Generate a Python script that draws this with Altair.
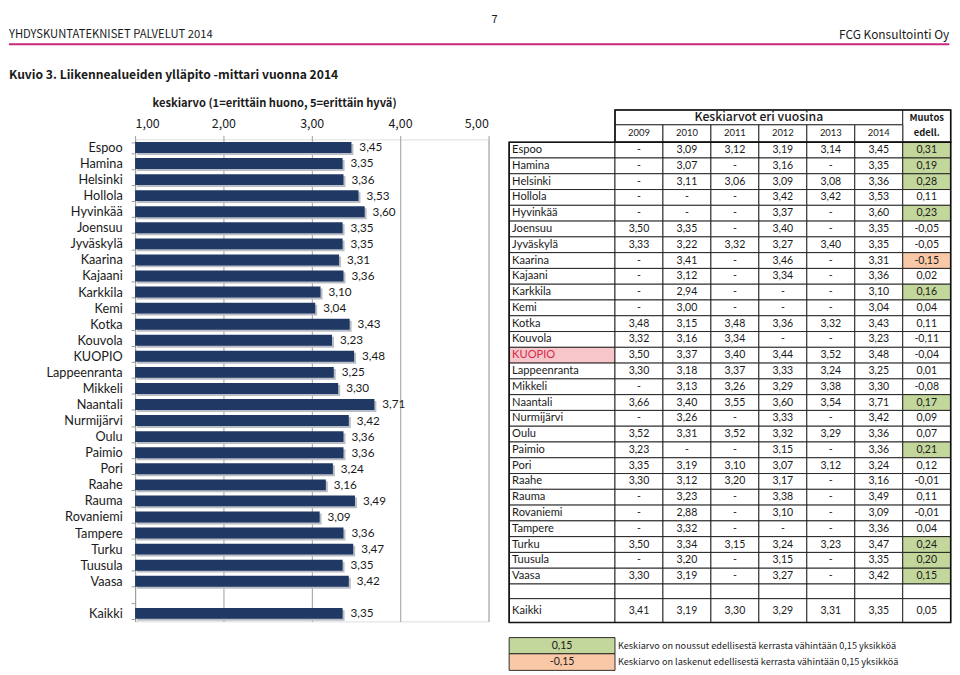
import altair as alt
import numpy as np
import pandas as pd

FONT = "Noto Sans CJK SC"
DENSE = "Lato"
TXT = "#1a1a1a"
GRID = "#9d9d9d"
NAVY = "#1F3864"
SHADOW = "#b9bdc5"
GREEN = "#C3D69B"
SALMON = "#F9C9A7"
PINK = "#F7C6CB"
RED = "#D42A48"
MAGENTA = "#C8287F"

# ---------------- data ----------------
cities = ["Espoo", "Hamina", "Helsinki", "Hollola", "Hyvinkää", "Joensuu", "Jyväskylä",
          "Kaarina", "Kajaani", "Karkkila", "Kemi", "Kotka", "Kouvola", "KUOPIO",
          "Lappeenranta", "Mikkeli", "Naantali", "Nurmijärvi", "Oulu", "Paimio", "Pori",
          "Raahe", "Rauma", "Rovaniemi", "Tampere", "Turku", "Tuusula", "Vaasa"]
N = None
v2009 = [N, N, N, N, N, 3.50, 3.33, N, N, N, N, 3.48, 3.32, 3.50, 3.30, N, 3.66, N,
         3.52, 3.23, 3.35, 3.30, N, N, N, 3.50, N, 3.30]
v2010 = [3.09, 3.07, 3.11, N, N, 3.35, 3.22, 3.41, 3.12, 2.94, 3.00, 3.15, 3.16, 3.37,
         3.18, 3.13, 3.40, 3.26, 3.31, N, 3.19, 3.12, 3.23, 2.88, 3.32, 3.34, 3.20, 3.19]
v2011 = [3.12, N, 3.06, N, N, N, 3.32, N, N, N, N, 3.48, 3.34, 3.40, 3.37, 3.26, 3.55, N,
         3.52, N, 3.10, 3.20, N, N, N, 3.15, N, N]
v2012 = [3.19, 3.16, 3.09, 3.42, 3.37, 3.40, 3.27, 3.46, 3.34, N, N, 3.36, N, 3.44, 3.33,
         3.29, 3.60, 3.33, 3.32, 3.15, 3.07, 3.17, 3.38, 3.10, N, 3.24, 3.15, 3.27]
v2013 = [3.14, N, 3.08, 3.42, N, N, 3.40, N, N, N, N, 3.32, N, 3.52, 3.24, 3.38, 3.54, N,
         3.29, N, 3.12, N, N, N, N, 3.23, N, N]
v2014 = [3.45, 3.35, 3.36, 3.53, 3.60, 3.35, 3.35, 3.31, 3.36, 3.10, 3.04, 3.43, 3.23, 3.48,
         3.25, 3.30, 3.71, 3.42, 3.36, 3.36, 3.24, 3.16, 3.49, 3.09, 3.36, 3.47, 3.35, 3.42]
muutos = [0.31, 0.19, 0.28, 0.11, 0.23, -0.05, -0.05, -0.15, 0.02, 0.16, 0.04, 0.11, -0.11,
          -0.04, 0.01, -0.08, 0.17, 0.09, 0.07, 0.21, 0.12, -0.01, 0.11, -0.01, 0.04, 0.24,
          0.20, 0.15]
kaikki_label = "Kaikki"
kaikki_vals = [3.41, 3.19, 3.30, 3.29, 3.31, 3.35]
kaikki_muutos = 0.05
years = ["2009", "2010", "2011", "2012", "2013", "2014"]
threshold = 0.15
legend_texts = ["Keskiarvo on noussut edellisestä kerrasta vähintään 0,15 yksikköä",
                "Keskiarvo on laskenut edellisestä kerrasta vähintään 0,15 yksikköä"]

# ---------------- layout (pixels relative to the bar plot origin) ----------------
W, H = 355.7, 485.4
TX0, TY0 = 376.7, -29.7
COL_W = [106.6] + [48.3] * 7
ROW_H = [15.0, 17.5] + [15.89] * 28 + [14.8, 24.0] + [15.2, 16.3, 16.7]
cx = np.concatenate([[0.0], np.cumsum(COL_W)])
ry = np.concatenate([[0.0], np.cumsum(ROW_H)])
TW, TH = float(cx[-1]), float(ry[-1])


def fmt(v):
    return "-" if v is None else f"{v:.2f}".replace(".", ",")


def mfill(m):
    if m >= threshold - 1e-9:
        return GREEN
    if m <= -threshold + 1e-9:
        return SALMON
    return "white"


# ---------------- bar chart ----------------
BLANK = " "
y_dom = cities + [BLANK, kaikki_label]
bar_df = pd.DataFrame({"kunta": cities + [kaikki_label], "arvo": v2014 + [kaikki_vals[-1]]})

yb = alt.Y("kunta:N",
           scale=alt.Scale(domain=y_dom, paddingInner=0.32, paddingOuter=0.16),
           axis=alt.Axis(title=None, grid=False, domainColor=GRID, domainWidth=1,
                         tickColor=GRID, tickSize=4, tickBand="extent", labelPadding=9,
                         labelFont=DENSE, labelFontSize=12.8, labelColor=TXT))
xb = alt.X("arvo:Q",
           scale=alt.Scale(domain=[1, 5], nice=False, zero=False),
           axis=alt.Axis(orient="top", values=[1, 2, 3, 4, 5],
                         labelExpr="replace(format(datum.value, '.2f'), '.', ',')",
                         title="keskiarvo (1=erittäin huono, 5=erittäin hyvä)",
                         titleX=140, titleY=-36, titleAlign="center", titleBaseline="middle",
                         titleFont=FONT, titleFontSize=11.2, titleFontWeight="bold",
                         titleColor=TXT, domain=False, tickColor=GRID, tickSize=4,
                         labelPadding=5, labelFont=FONT, labelFontSize=12.5, labelColor=TXT,
                         grid=True, gridColor=GRID, gridWidth=1))

base_bar = alt.Chart(bar_df).transform_calculate(
    lbl="replace(format(datum.arvo, '.2f'), '.', ',')")
shadow = base_bar.mark_bar(color=SHADOW, xOffset=2, x2Offset=2, yOffset=2,
                           y2Offset=2).encode(x=xb, x2=alt.datum(1), y=yb)
bars = base_bar.mark_bar(color=NAVY).encode(x=xb, x2=alt.datum(1), y=yb)
bar_lbl = base_bar.mark_text(align="left", baseline="middle", dx=8, font=DENSE,
                             fontSize=11.8, color=TXT).encode(x=xb, y=yb, text="lbl:N")
bar_group = alt.layer(shadow, bars, bar_lbl)

# ---------------- table ----------------
cells, frames = [], []
names, vals, yrs, heads, mhead, legd = [], [], [], [], [], []


def cell(c0, c1, r0, r1, fill, lst=cells):
    lst.append({"x0": cx[c0], "x1": cx[c1 + 1], "y0": ry[r0], "y1": ry[r1 + 1], "fill": fill})


def mid(r):
    return (ry[r] + ry[r + 1]) / 2


def cmid(c):
    return (cx[c] + cx[c + 1]) / 2


cell(1, 6, 0, 0, "white")
cell(7, 7, 0, 1, "white")
heads.append({"x": (cx[1] + cx[7]) / 2, "y": mid(0), "t": "Keskiarvot eri vuosina"})
mhead.append({"x": cmid(7), "y": mid(0) + 1, "t": "Muutos"})
mhead.append({"x": cmid(7), "y": mid(1) - 1, "t": "edell."})
for i, yv in enumerate(years):
    cell(i + 1, i + 1, 1, 1, "white")
    yrs.append({"x": cmid(i + 1), "y": mid(1), "t": yv})

series = [v2009, v2010, v2011, v2012, v2013, v2014]
for k, name in enumerate(cities):
    r = k + 2
    cell(0, 0, r, r, PINK if name == "KUOPIO" else "white")
    names.append({"x": cx[0], "y": mid(r), "t": name, "col": RED if name == "KUOPIO" else TXT})
    for j, s in enumerate(series):
        cell(j + 1, j + 1, r, r, "white")
        vals.append({"x": cmid(j + 1), "y": mid(r), "t": fmt(s[k])})
    cell(7, 7, r, r, mfill(muutos[k]))
    vals.append({"x": cmid(7), "y": mid(r), "t": fmt(muutos[k])})

rb = len(cities) + 2
for c in range(8):
    cell(c, c, rb, rb, "white")
rk = rb + 1
cell(0, 0, rk, rk, "white")
names.append({"x": cx[0], "y": mid(rk), "t": kaikki_label, "col": TXT})
for j, v in enumerate(kaikki_vals):
    cell(j + 1, j + 1, rk, rk, "white")
    vals.append({"x": cmid(j + 1), "y": mid(rk), "t": fmt(v)})
cell(7, 7, rk, rk, mfill(kaikki_muutos))
vals.append({"x": cmid(7), "y": mid(rk), "t": fmt(kaikki_muutos)})

cell(0, 7, 2, rk, "none", frames)
cell(1, 7, 0, 1, "none", frames)

# legend rows
rl = rk + 2
for i, (fill, v) in enumerate([(GREEN, threshold), (SALMON, -threshold)]):
    cell(0, 0, rl + i, rl + i, fill)
    vals.append({"x": cmid(0), "y": mid(rl + i), "t": fmt(v)})
    legd.append({"x": cx[1], "y": mid(rl + i), "t": legend_texts[i]})

xs = alt.Scale(domain=[0, TW], range=[TX0, TX0 + TW], nice=False, zero=False)
ys = alt.Scale(domain=[0, TH], range=[TY0, TY0 + TH], nice=False, zero=False)


def XT(f):
    return alt.X(f, scale=xs, axis=None)


def YT(f):
    return alt.Y(f, scale=ys, axis=None)


rects = alt.Chart(pd.DataFrame(cells)).mark_rect(stroke="#1a1a1a", strokeWidth=0.9).encode(
    x=XT("x0:Q"), x2="x1:Q", y=YT("y0:Q"), y2="y1:Q", fill=alt.Fill("fill:N", scale=None))
frame = alt.Chart(pd.DataFrame(frames)).mark_rect(fillOpacity=0, stroke="#111111",
                                                   strokeWidth=1.6).encode(
    x=XT("x0:Q"), x2="x1:Q", y=YT("y0:Q"), y2="y1:Q")


def tlayer(rows, size, align="center", dx=0, weight="normal", colored=False, font=DENSE):
    ch = alt.Chart(pd.DataFrame(rows)).mark_text(align=align, baseline="middle", dx=dx,
                                                 font=font, fontSize=size, fontWeight=weight,
                                                 color=TXT)
    enc = dict(x=XT("x:Q"), y=YT("y:Q"), text="t:N")
    if colored:
        enc["color"] = alt.Color("col:N", scale=None)
    return ch.encode(**enc)


table_group = alt.layer(
    rects, frame,
    tlayer(names, 11.2, align="left", dx=3, colored=True),
    tlayer(vals, 10.6),
    tlayer(yrs, 9.5),
    tlayer(heads, 12.3, font=FONT, weight=500),
    tlayer(mhead, 9.5, weight="bold", font=FONT),
    tlayer(legd, 9.2, align="left", dx=3, font=FONT),
)


# ---------------- page decoration ----------------
def deco_text(t, x, y, size, align="left", baseline="middle", weight="normal"):
    return alt.Chart(pd.DataFrame({"t": [t]})).mark_text(
        align=align, baseline=baseline, font=FONT, fontSize=size, fontWeight=weight,
        color=TXT).encode(x=alt.value(x), y=alt.value(y), text="t:N")


page_no = deco_text("7", 362, -126, 11, align="center", baseline="top")
head_l = deco_text("YHDYSKUNTATEKNISET PALVELUT 2014", -127, -104.7, 11.3)
head_r = deco_text("FCG Konsultointi Oy", 820, -104.7, 12, align="right")
rule = alt.Chart(pd.DataFrame({"a": [0]})).mark_rule(color=MAGENTA, strokeWidth=2).encode(
    x=alt.value(-127), x2=alt.value(820), y=alt.value(-95.8))
title = deco_text("Kuvio 3. Liikennealueiden ylläpito -mittari vuonna 2014", -127, -65.3,
                  12.2, weight="bold")

chart = alt.layer(bar_group, table_group, page_no, head_l, head_r, rule, title).resolve_scale(
    x="independent", y="independent"
).properties(
    width=W, height=H, padding={"left": 0, "top": 4, "right": 0, "bottom": 0}
).configure_view(stroke=None).configure(font=FONT)

chart.save("out.html", embed_options={"renderer": "svg", "actions": False})
